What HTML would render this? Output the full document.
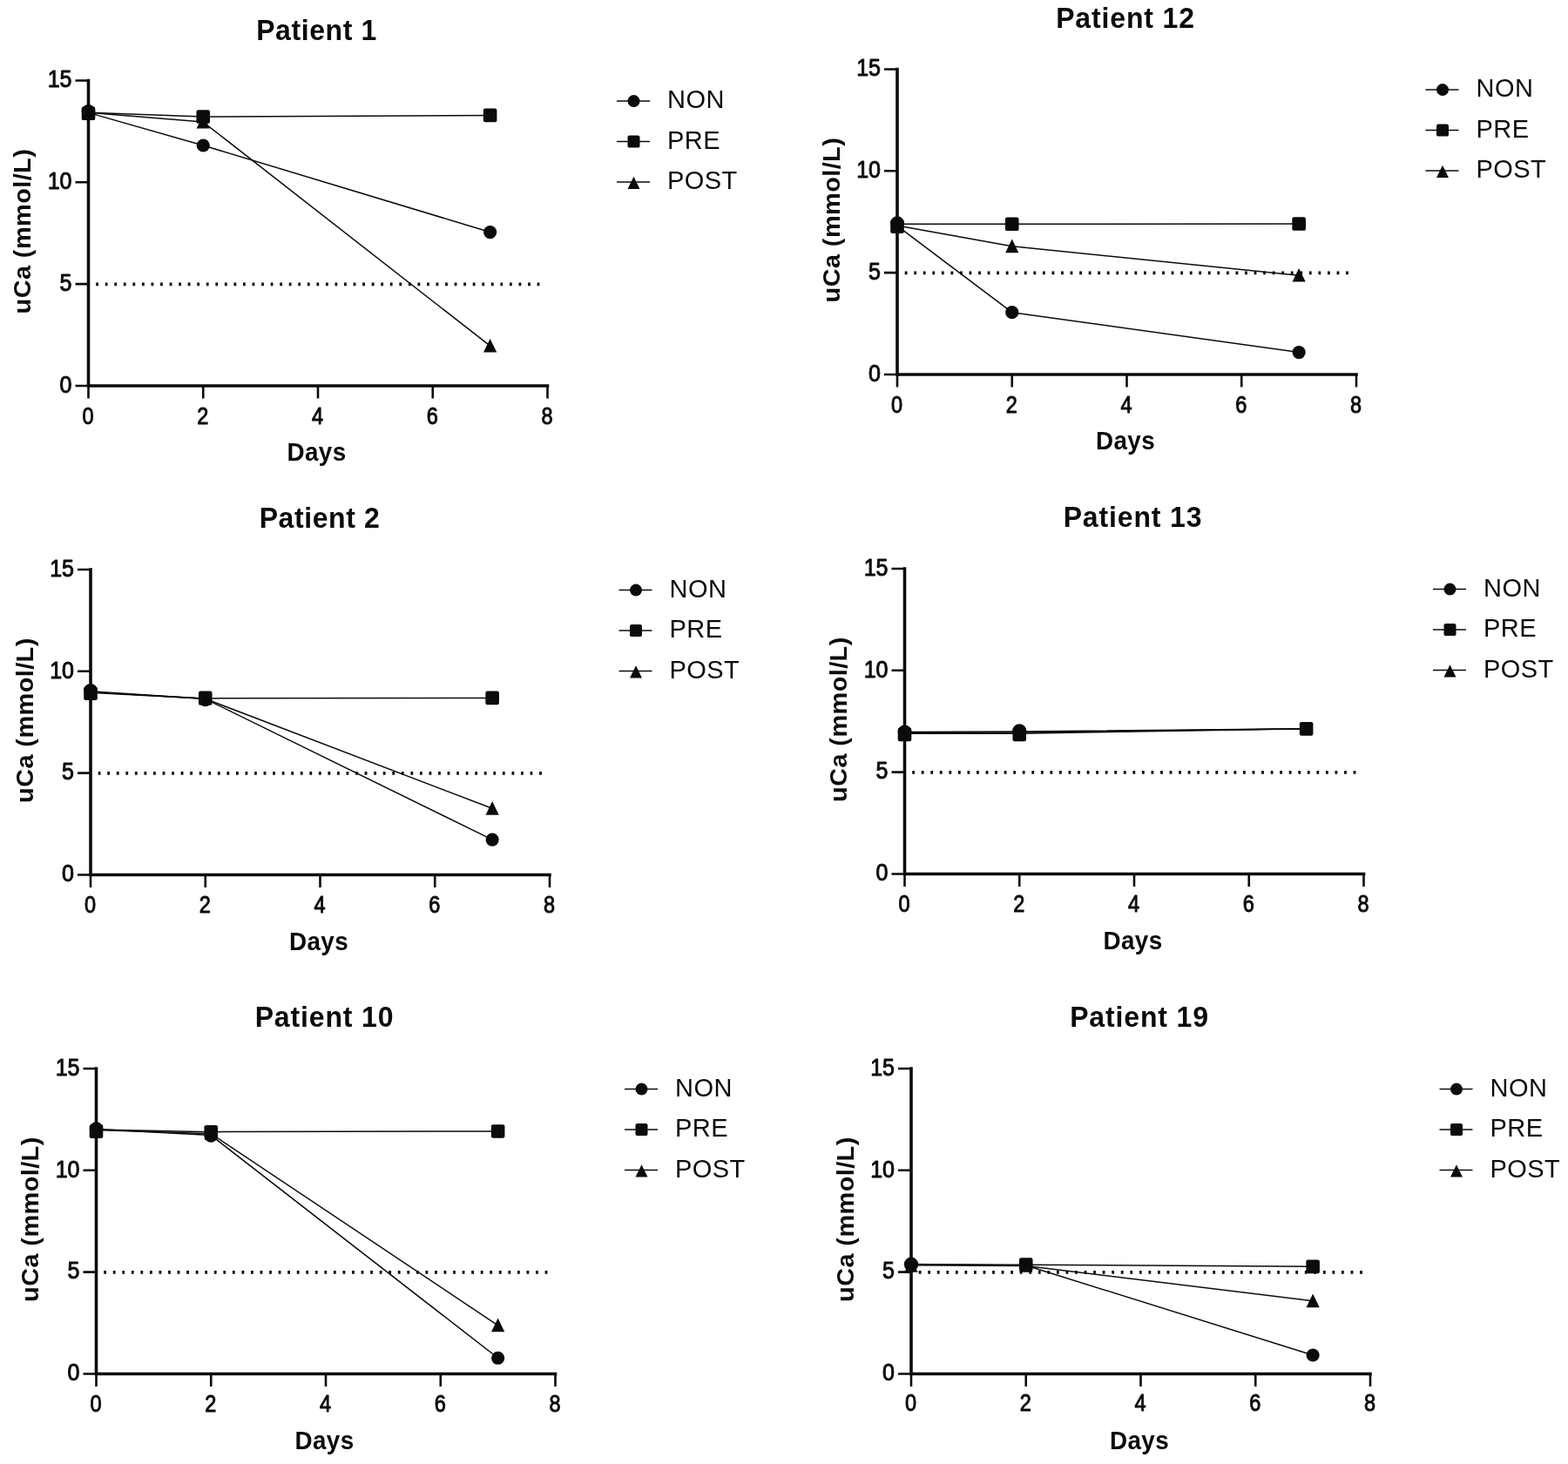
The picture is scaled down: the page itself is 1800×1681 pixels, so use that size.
<!DOCTYPE html>
<html lang="en">
<head>
<meta charset="utf-8">
<title>uCa by patient</title>
<style>
html,body{margin:0;padding:0;background:#fff;}
body{width:1800px;height:1681px;overflow:hidden;}
svg{display:block;}
text{font-family:"Liberation Sans",sans-serif;fill:#0b0b0b;}
.title{font-size:32px;font-weight:bold;text-anchor:middle;letter-spacing:0.6px;}
.t2{letter-spacing:0.85px;}
.axl{font-size:27px;font-weight:bold;text-anchor:middle;letter-spacing:0.4px;}
.tk{font-size:25px;stroke:#0b0b0b;stroke-width:0.9px;stroke-linejoin:round;}
.tkx{text-anchor:middle;}
.tky{text-anchor:end;}
.lg{font-size:29px;letter-spacing:0.45px;}
.ax{stroke:#0b0b0b;stroke-width:3.6;fill:none;stroke-linecap:square;}
.tick{stroke:#0b0b0b;stroke-width:2.6;fill:none;}
.ln{stroke:#0b0b0b;stroke-width:1.5;fill:none;stroke-linejoin:round;}
.dot{stroke:#0b0b0b;stroke-width:3.6;fill:none;stroke-dasharray:2.8 7.75;}
.mk{fill:#0b0b0b;stroke:none;}
</style>
</head>
<body>
<svg width="1800" height="1681" viewBox="0 0 1800 1681">
<rect width="1800" height="1681" fill="#fff"/>

<g>
<text class="title" transform="translate(363.5 45.5) scale(1 1.06)">Patient 1</text>
<line class="dot" x1="110.2" y1="326.35" x2="619.5" y2="326.35"/>
<path class="ax" d="M101.5 92.45V443H628.5"/>
<path class="tick" d="M86.5 443H101.5M86.5 326.15H101.5M86.5 209.3H101.5M86.5 92.45H101.5M101.5 443V457.5M233.25 443V457.5M365 443V457.5M496.75 443V457.5M628.5 443V457.5"/>
<text class="tk tky" transform="translate(82.5 450.8) scale(1 1.08)">0</text>
<text class="tk tky" transform="translate(82.5 333.95) scale(1 1.08)">5</text>
<text class="tk tky" transform="translate(82.5 217.1) scale(1 1.08)">10</text>
<text class="tk tky" transform="translate(82.5 100.25) scale(1 1.08)">15</text>
<text class="tk tkx" transform="translate(101 486.7) scale(0.94 1.08)">0</text>
<text class="tk tkx" transform="translate(232.75 486.7) scale(0.94 1.08)">2</text>
<text class="tk tkx" transform="translate(364.5 486.7) scale(0.94 1.08)">4</text>
<text class="tk tkx" transform="translate(496.25 486.7) scale(0.94 1.08)">6</text>
<text class="tk tkx" transform="translate(628 486.7) scale(0.94 1.08)">8</text>
<text class="axl" transform="translate(363.5 529.3) scale(1.03 1.07)">Days</text>
<text class="axl" transform="translate(35.3 265.6) rotate(-90) scale(1.07 1)">uCa (mmol/L)</text>
<polyline class="ln" points="101.5,129.37 233.25,167 562.62,266.56"/>
<polyline class="ln" points="101.5,129.37 233.25,134.05 562.62,132.41"/>
<polyline class="ln" points="101.5,129.37 233.25,140.12 562.62,397.19"/>
<g class="mk"><path d="M101.5 121.09L109.1 136.75H93.9Z"/><path d="M233.25 131.84L240.85 147.5H225.65Z"/><path d="M562.62 388.91L570.23 404.57H555.02Z"/><rect x="93.7" y="122.51" width="15.6" height="15.6" rx="2.2"/><rect x="225.45" y="126.25" width="15.6" height="15.6" rx="2.2"/><rect x="554.83" y="124.61" width="15.6" height="15.6" rx="2.2"/><circle cx="101.5" cy="127.74" r="7.8"/><circle cx="233.25" cy="167" r="7.6"/><circle cx="562.62" cy="266.56" r="7.6"/></g>
<line class="ln" x1="708" y1="116.1" x2="746" y2="116.1"/>
<g class="mk"><circle cx="727.5" cy="116.1" r="7"/></g>
<text class="lg" transform="translate(766 124.3) scale(1 1.02)">NON</text>
<line class="ln" x1="708" y1="162.6" x2="746" y2="162.6"/>
<g class="mk"><rect x="720.5" y="155.6" width="14" height="14" rx="2.2"/></g>
<text class="lg" transform="translate(766 170.8) scale(1 1.02)">PRE</text>
<line class="ln" x1="708" y1="209.1" x2="746" y2="209.1"/>
<g class="mk"><path d="M727.5 202.67L734.5 217.09H720.5Z"/></g>
<text class="lg" transform="translate(766 217.3) scale(1 1.02)">POST</text>
</g>
<g>
<text class="title t2" transform="translate(1292 31.9) scale(1 1.06)">Patient 12</text>
<line class="dot" x1="1038.7" y1="313.35" x2="1548" y2="313.35"/>
<path class="ax" d="M1030 79.45V430H1557"/>
<path class="tick" d="M1015 430H1030M1015 313.15H1030M1015 196.3H1030M1015 79.45H1030M1030 430V444.5M1161.75 430V444.5M1293.5 430V444.5M1425.25 430V444.5M1557 430V444.5"/>
<text class="tk tky" transform="translate(1011 437.8) scale(1 1.08)">0</text>
<text class="tk tky" transform="translate(1011 320.95) scale(1 1.08)">5</text>
<text class="tk tky" transform="translate(1011 204.1) scale(1 1.08)">10</text>
<text class="tk tky" transform="translate(1011 87.25) scale(1 1.08)">15</text>
<text class="tk tkx" transform="translate(1029.5 473.7) scale(0.94 1.08)">0</text>
<text class="tk tkx" transform="translate(1161.25 473.7) scale(0.94 1.08)">2</text>
<text class="tk tkx" transform="translate(1293 473.7) scale(0.94 1.08)">4</text>
<text class="tk tkx" transform="translate(1424.75 473.7) scale(0.94 1.08)">6</text>
<text class="tk tkx" transform="translate(1556.5 473.7) scale(0.94 1.08)">8</text>
<text class="axl" transform="translate(1292 516.3) scale(1.03 1.07)">Days</text>
<text class="axl" transform="translate(963.8 252.6) rotate(-90) scale(1.07 1)">uCa (mmol/L)</text>
<polyline class="ln" points="1030,259.4 1161.75,358.72 1491.12,404.53"/>
<polyline class="ln" points="1030,257.3 1161.75,257.3 1491.12,257.06"/>
<polyline class="ln" points="1030,258.93 1161.75,282.77 1491.12,316.19"/>
<g class="mk"><path d="M1030 250.65L1037.6 266.3H1022.4Z"/><path d="M1161.75 274.49L1169.35 290.14H1154.15Z"/><path d="M1491.12 307.9L1498.72 323.56H1483.53Z"/><rect x="1022.2" y="252.3" width="15.6" height="15.6" rx="2.2"/><rect x="1153.95" y="249.5" width="15.6" height="15.6" rx="2.2"/><rect x="1483.33" y="249.26" width="15.6" height="15.6" rx="2.2"/><circle cx="1030" cy="256.01" r="7.8"/><circle cx="1161.75" cy="358.72" r="7.6"/><circle cx="1491.12" cy="404.53" r="7.6"/></g>
<line class="ln" x1="1636.5" y1="103.1" x2="1674.5" y2="103.1"/>
<g class="mk"><circle cx="1656" cy="103.1" r="7"/></g>
<text class="lg" transform="translate(1694.5 111.3) scale(1 1.02)">NON</text>
<line class="ln" x1="1636.5" y1="149.6" x2="1674.5" y2="149.6"/>
<g class="mk"><rect x="1649" y="142.6" width="14" height="14" rx="2.2"/></g>
<text class="lg" transform="translate(1694.5 157.8) scale(1 1.02)">PRE</text>
<line class="ln" x1="1636.5" y1="196.1" x2="1674.5" y2="196.1"/>
<g class="mk"><path d="M1656 189.67L1663 204.09H1649Z"/></g>
<text class="lg" transform="translate(1694.5 204.3) scale(1 1.02)">POST</text>
</g>
<g>
<text class="title" transform="translate(367 606.4) scale(1 1.06)">Patient 2</text>
<line class="dot" x1="112.7" y1="887.85" x2="622" y2="887.85"/>
<path class="ax" d="M104 653.95V1004.5H631"/>
<path class="tick" d="M89 1004.5H104M89 887.65H104M89 770.8H104M89 653.95H104M104 1004.5V1019M235.75 1004.5V1019M367.5 1004.5V1019M499.25 1004.5V1019M631 1004.5V1019"/>
<text class="tk tky" transform="translate(85 1012.3) scale(1 1.08)">0</text>
<text class="tk tky" transform="translate(85 895.45) scale(1 1.08)">5</text>
<text class="tk tky" transform="translate(85 778.6) scale(1 1.08)">10</text>
<text class="tk tky" transform="translate(85 661.75) scale(1 1.08)">15</text>
<text class="tk tkx" transform="translate(103.5 1048.2) scale(0.94 1.08)">0</text>
<text class="tk tkx" transform="translate(235.25 1048.2) scale(0.94 1.08)">2</text>
<text class="tk tkx" transform="translate(367 1048.2) scale(0.94 1.08)">4</text>
<text class="tk tkx" transform="translate(498.75 1048.2) scale(0.94 1.08)">6</text>
<text class="tk tkx" transform="translate(630.5 1048.2) scale(0.94 1.08)">8</text>
<text class="axl" transform="translate(366 1090.8) scale(1.03 1.07)">Days</text>
<text class="axl" transform="translate(37.8 827.1) rotate(-90) scale(1.07 1)">uCa (mmol/L)</text>
<polyline class="ln" points="104,793.7 235.75,802.58 565.12,964.07"/>
<polyline class="ln" points="104,794.64 235.75,801.88 565.12,801.41"/>
<polyline class="ln" points="104,795.34 235.75,802.35 565.12,928.31"/>
<g class="mk"><path d="M104 786.82L111.6 802.48H96.4Z"/><path d="M235.75 793.83L243.35 809.49H228.15Z"/><path d="M565.12 920.03L572.73 935.69H557.52Z"/><rect x="96.2" y="788.47" width="15.6" height="15.6" rx="2.2"/><rect x="227.95" y="793.61" width="15.6" height="15.6" rx="2.2"/><rect x="557.33" y="793.61" width="15.6" height="15.6" rx="2.2"/><circle cx="104" cy="792.77" r="7.8"/><circle cx="235.75" cy="803.75" r="7.6"/><circle cx="565.12" cy="964.07" r="7.6"/></g>
<line class="ln" x1="710.5" y1="677.6" x2="748.5" y2="677.6"/>
<g class="mk"><circle cx="730" cy="677.6" r="7"/></g>
<text class="lg" transform="translate(768.5 685.8) scale(1 1.02)">NON</text>
<line class="ln" x1="710.5" y1="724.1" x2="748.5" y2="724.1"/>
<g class="mk"><rect x="723" y="717.1" width="14" height="14" rx="2.2"/></g>
<text class="lg" transform="translate(768.5 732.3) scale(1 1.02)">PRE</text>
<line class="ln" x1="710.5" y1="770.6" x2="748.5" y2="770.6"/>
<g class="mk"><path d="M730 764.17L737 778.59H723Z"/></g>
<text class="lg" transform="translate(768.5 778.8) scale(1 1.02)">POST</text>
</g>
<g>
<text class="title t2" transform="translate(1300.5 605.4) scale(1 1.06)">Patient 13</text>
<line class="dot" x1="1047.2" y1="886.85" x2="1556.5" y2="886.85"/>
<path class="ax" d="M1038.5 652.95V1003.5H1565.5"/>
<path class="tick" d="M1023.5 1003.5H1038.5M1023.5 886.65H1038.5M1023.5 769.8H1038.5M1023.5 652.95H1038.5M1038.5 1003.5V1018M1170.25 1003.5V1018M1302 1003.5V1018M1433.75 1003.5V1018M1565.5 1003.5V1018"/>
<text class="tk tky" transform="translate(1019.5 1011.3) scale(1 1.08)">0</text>
<text class="tk tky" transform="translate(1019.5 894.45) scale(1 1.08)">5</text>
<text class="tk tky" transform="translate(1019.5 777.6) scale(1 1.08)">10</text>
<text class="tk tky" transform="translate(1019.5 660.75) scale(1 1.08)">15</text>
<text class="tk tkx" transform="translate(1038 1047.2) scale(0.94 1.08)">0</text>
<text class="tk tkx" transform="translate(1169.75 1047.2) scale(0.94 1.08)">2</text>
<text class="tk tkx" transform="translate(1301.5 1047.2) scale(0.94 1.08)">4</text>
<text class="tk tkx" transform="translate(1433.25 1047.2) scale(0.94 1.08)">6</text>
<text class="tk tkx" transform="translate(1565 1047.2) scale(0.94 1.08)">8</text>
<text class="axl" transform="translate(1300.5 1089.8) scale(1.03 1.07)">Days</text>
<text class="axl" transform="translate(972.3 826.1) rotate(-90) scale(1.07 1)">uCa (mmol/L)</text>
<polyline class="ln" points="1038.5,840.38 1170.25,839.91 1499.62,836.87"/>
<polyline class="ln" points="1038.5,842.25 1170.25,842.25 1499.62,836.87"/>
<polyline class="ln" points="1038.5,841.31 1170.25,841.08 1499.62,836.87"/>
<g class="mk"><rect x="1030.7" y="835.62" width="15.6" height="15.6" rx="2.2"/><rect x="1162.45" y="835.62" width="15.6" height="15.6" rx="2.2"/><rect x="1491.83" y="829.07" width="15.6" height="15.6" rx="2.2"/><circle cx="1038.5" cy="840.38" r="7.9"/><circle cx="1170.25" cy="839.21" r="8"/></g>
<line class="ln" x1="1645" y1="676.6" x2="1683" y2="676.6"/>
<g class="mk"><circle cx="1664.5" cy="676.6" r="7"/></g>
<text class="lg" transform="translate(1703 684.8) scale(1 1.02)">NON</text>
<line class="ln" x1="1645" y1="723.1" x2="1683" y2="723.1"/>
<g class="mk"><rect x="1657.5" y="716.1" width="14" height="14" rx="2.2"/></g>
<text class="lg" transform="translate(1703 731.3) scale(1 1.02)">PRE</text>
<line class="ln" x1="1645" y1="769.6" x2="1683" y2="769.6"/>
<g class="mk"><path d="M1664.5 763.17L1671.5 777.59H1657.5Z"/></g>
<text class="lg" transform="translate(1703 777.8) scale(1 1.02)">POST</text>
</g>
<g>
<text class="title t2" transform="translate(372.5 1179.4) scale(1 1.06)">Patient 10</text>
<line class="dot" x1="119.2" y1="1460.85" x2="628.5" y2="1460.85"/>
<path class="ax" d="M110.5 1226.95V1577.5H637.5"/>
<path class="tick" d="M95.5 1577.5H110.5M95.5 1460.65H110.5M95.5 1343.8H110.5M95.5 1226.95H110.5M110.5 1577.5V1592M242.25 1577.5V1592M374 1577.5V1592M505.75 1577.5V1592M637.5 1577.5V1592"/>
<text class="tk tky" transform="translate(91.5 1585.3) scale(1 1.08)">0</text>
<text class="tk tky" transform="translate(91.5 1468.45) scale(1 1.08)">5</text>
<text class="tk tky" transform="translate(91.5 1351.6) scale(1 1.08)">10</text>
<text class="tk tky" transform="translate(91.5 1234.75) scale(1 1.08)">15</text>
<text class="tk tkx" transform="translate(110 1620.8) scale(0.94 1.08)">0</text>
<text class="tk tkx" transform="translate(241.75 1620.8) scale(0.94 1.08)">2</text>
<text class="tk tkx" transform="translate(373.5 1620.8) scale(0.94 1.08)">4</text>
<text class="tk tkx" transform="translate(505.25 1620.8) scale(0.94 1.08)">6</text>
<text class="tk tkx" transform="translate(637 1620.8) scale(0.94 1.08)">8</text>
<text class="axl" transform="translate(372.5 1663.8) scale(1.03 1.07)">Days</text>
<text class="axl" transform="translate(44.3 1400.1) rotate(-90) scale(1.07 1)">uCa (mmol/L)</text>
<polyline class="ln" points="110.5,1296.59 242.25,1303.6 571.62,1559.27"/>
<polyline class="ln" points="110.5,1297.06 242.25,1299.63 571.62,1298.93"/>
<polyline class="ln" points="110.5,1297.53 242.25,1301.73 571.62,1521.88"/>
<g class="mk"><path d="M110.5 1289.71L118.1 1305.37H102.9Z"/><path d="M242.25 1293.45L249.85 1309.11H234.65Z"/><path d="M571.62 1513.6L579.23 1529.25H564.02Z"/><rect x="102.7" y="1291.36" width="15.6" height="15.6" rx="2.2"/><rect x="234.45" y="1292.06" width="15.6" height="15.6" rx="2.2"/><rect x="563.83" y="1291.13" width="15.6" height="15.6" rx="2.2"/><circle cx="110.5" cy="1296.01" r="7.8"/><circle cx="242.25" cy="1304.07" r="7.6"/><circle cx="571.62" cy="1559.27" r="7.6"/></g>
<line class="ln" x1="717" y1="1250.6" x2="755" y2="1250.6"/>
<g class="mk"><circle cx="736.5" cy="1250.6" r="7"/></g>
<text class="lg" transform="translate(775 1258.8) scale(1 1.02)">NON</text>
<line class="ln" x1="717" y1="1297.1" x2="755" y2="1297.1"/>
<g class="mk"><rect x="729.5" y="1290.1" width="14" height="14" rx="2.2"/></g>
<text class="lg" transform="translate(775 1305.3) scale(1 1.02)">PRE</text>
<line class="ln" x1="717" y1="1343.6" x2="755" y2="1343.6"/>
<g class="mk"><path d="M736.5 1337.17L743.5 1351.59H729.5Z"/></g>
<text class="lg" transform="translate(775 1351.8) scale(1 1.02)">POST</text>
</g>
<g>
<text class="title t2" transform="translate(1308 1179.4) scale(1 1.06)">Patient 19</text>
<line class="dot" x1="1054.7" y1="1460.85" x2="1564" y2="1460.85"/>
<path class="ax" d="M1046 1226.95V1577.5H1573"/>
<path class="tick" d="M1031 1577.5H1046M1031 1460.65H1046M1031 1343.8H1046M1031 1226.95H1046M1046 1577.5V1592M1177.75 1577.5V1592M1309.5 1577.5V1592M1441.25 1577.5V1592M1573 1577.5V1592"/>
<text class="tk tky" transform="translate(1027 1585.3) scale(1 1.08)">0</text>
<text class="tk tky" transform="translate(1027 1468.45) scale(1 1.08)">5</text>
<text class="tk tky" transform="translate(1027 1351.6) scale(1 1.08)">10</text>
<text class="tk tky" transform="translate(1027 1234.75) scale(1 1.08)">15</text>
<text class="tk tkx" transform="translate(1045.5 1620.2) scale(0.94 1.08)">0</text>
<text class="tk tkx" transform="translate(1177.25 1620.2) scale(0.94 1.08)">2</text>
<text class="tk tkx" transform="translate(1309 1620.2) scale(0.94 1.08)">4</text>
<text class="tk tkx" transform="translate(1440.75 1620.2) scale(0.94 1.08)">6</text>
<text class="tk tkx" transform="translate(1572.5 1620.2) scale(0.94 1.08)">8</text>
<text class="axl" transform="translate(1308 1663.8) scale(1.03 1.07)">Days</text>
<text class="axl" transform="translate(979.8 1400.1) rotate(-90) scale(1.07 1)">uCa (mmol/L)</text>
<polyline class="ln" points="1046,1451.54 1177.75,1452.94 1507.12,1556"/>
<polyline class="ln" points="1046,1452 1177.75,1452.24 1507.12,1454.34"/>
<polyline class="ln" points="1046,1452.7 1177.75,1453.41 1507.12,1493.84"/>
<g class="mk"><path d="M1046 1445.12L1053.6 1460.78H1038.4Z"/><path d="M1177.75 1445.12L1185.35 1460.78H1170.15Z"/><path d="M1507.12 1485.55L1514.72 1501.21H1499.53Z"/><rect x="1169.95" y="1444.2" width="15.6" height="15.6" rx="2.2"/><rect x="1499.33" y="1446.54" width="15.6" height="15.6" rx="2.2"/><circle cx="1046" cy="1451.77" r="8.2"/><circle cx="1177.75" cy="1452.94" r="7"/><circle cx="1507.12" cy="1556" r="7.6"/></g>
<line class="ln" x1="1652.5" y1="1250.6" x2="1690.5" y2="1250.6"/>
<g class="mk"><circle cx="1672" cy="1250.6" r="7"/></g>
<text class="lg" transform="translate(1710.5 1258.8) scale(1 1.02)">NON</text>
<line class="ln" x1="1652.5" y1="1297.1" x2="1690.5" y2="1297.1"/>
<g class="mk"><rect x="1665" y="1290.1" width="14" height="14" rx="2.2"/></g>
<text class="lg" transform="translate(1710.5 1305.3) scale(1 1.02)">PRE</text>
<line class="ln" x1="1652.5" y1="1343.6" x2="1690.5" y2="1343.6"/>
<g class="mk"><path d="M1672 1337.17L1679 1351.59H1665Z"/></g>
<text class="lg" transform="translate(1710.5 1351.8) scale(1 1.02)">POST</text>
</g>
</svg>
</body>
</html>
